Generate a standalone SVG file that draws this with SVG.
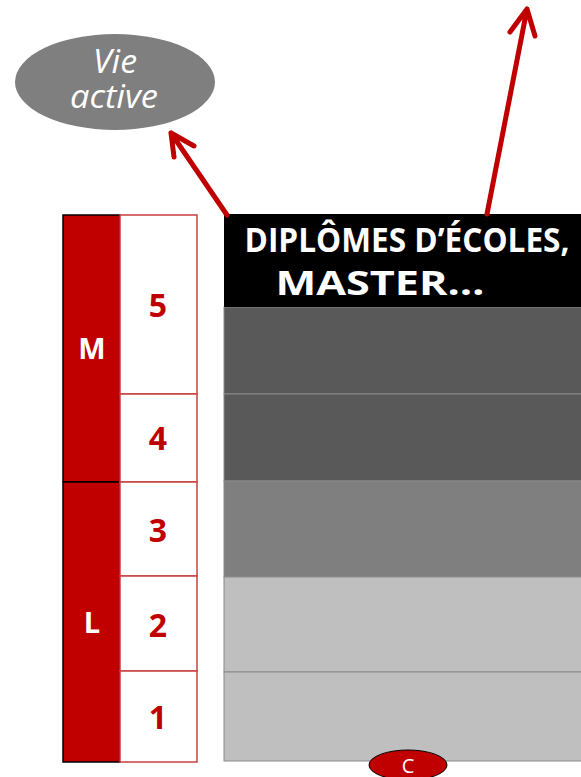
<svg xmlns="http://www.w3.org/2000/svg" width="581" height="777" viewBox="0 0 581 777">
<style>
.lvl{fill:#c00000;stroke:#000;stroke-width:1.5}
.cell{fill:#fff;stroke:#c84040;stroke-width:1.5}
.band{stroke:#8a8a8a;stroke-width:1}
.num{font-family:"Open Sans","Liberation Sans",sans-serif;font-weight:bold;font-size:32px;fill:#c00000;text-anchor:middle}
.lt{font-family:"Open Sans","Liberation Sans",sans-serif;font-weight:bold;font-size:29px;fill:#fff;text-anchor:middle}
.hd{font-family:"Open Sans","Liberation Sans",sans-serif;font-weight:bold;font-size:34px;fill:#fff;text-anchor:middle}
.va{font-family:"Open Sans","Liberation Sans",sans-serif;font-style:italic;font-size:32px;fill:#fff;text-anchor:middle}
.arr{stroke:#c00000;stroke-width:5;fill:none;stroke-linecap:round;stroke-linejoin:round}
</style>
<g id="vie-active">
<ellipse cx="115" cy="82" rx="100" ry="48" fill="#7f7f7f"/>
<text class="va" x="115" y="73" textLength="44" lengthAdjust="spacingAndGlyphs">Vie</text>
<text class="va" x="114" y="108" textLength="88" lengthAdjust="spacingAndGlyphs">active</text>
</g>
<g id="levels">
<rect class="lvl" x="63" y="215" width="57" height="267"/>
<text class="lt" x="92" y="359">M</text>
<rect class="lvl" x="63" y="482" width="57" height="280"/>
<text class="lt" x="92" y="633">L</text>
</g>
<g id="years">
<rect class="cell" x="120" y="215" width="77" height="179"/>
<text class="num" x="158" y="317">5</text>
<rect class="cell" x="120" y="394" width="77" height="88"/>
<text class="num" x="158" y="450">4</text>
<rect class="cell" x="120" y="482" width="77" height="94"/>
<text class="num" x="158" y="542">3</text>
<rect class="cell" x="120" y="576" width="77" height="95"/>
<text class="num" x="158" y="637">2</text>
<rect class="cell" x="120" y="671" width="77" height="91"/>
<text class="num" x="158" y="729">1</text>
</g>
<g id="diplomes">
<rect class="band" x="224" y="307" width="360" height="87" fill="#595959"/>
<rect class="band" x="224" y="394" width="360" height="87" fill="#595959"/>
<rect class="band" x="224" y="481" width="360" height="96" fill="#7f7f7f"/>
<rect class="band" x="224" y="577" width="360" height="95" fill="#bfbfbf"/>
<rect class="band" x="224" y="672" width="360" height="89" fill="#bfbfbf"/>
<rect x="224" y="214" width="360" height="93" fill="#000"/>
<text class="hd" x="407" y="252" textLength="325" lengthAdjust="spacingAndGlyphs">DIPLÔMES D’ÉCOLES,</text>
<text class="hd" x="380" y="295" textLength="209" lengthAdjust="spacingAndGlyphs">MASTER…</text>
</g>
<g id="c-node">
<ellipse cx="408" cy="765" rx="39" ry="15" fill="#c00000" stroke="#000" stroke-width="1"/>
<text x="408" y="773" font-family="'Open Sans','Liberation Sans',sans-serif" font-size="20" fill="#fff" text-anchor="middle">C</text>
</g>
<g id="connectors">
<path class="arr" d="M227,215 L171,133 M174,157 L171,133 L194,146"/>
<path class="arr" d="M487,214 L527,9 M510,32 L527,9 L535,36"/>
</g>
</svg>
